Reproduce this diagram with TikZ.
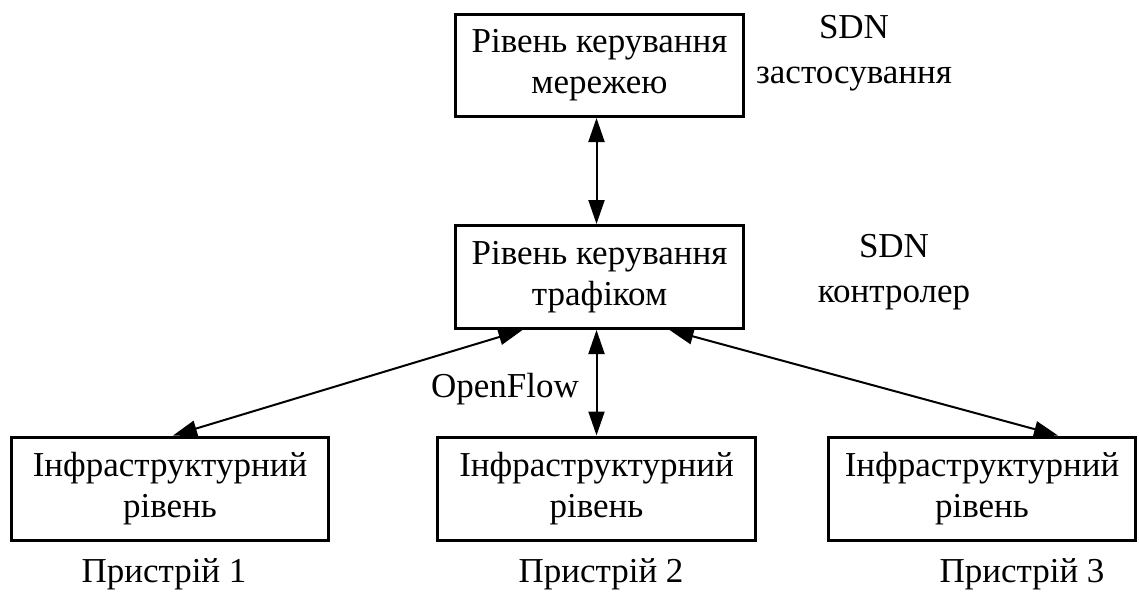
\documentclass[tikz,border=0pt]{standalone}
\usepackage{fontspec}
\setmainfont{Liberation Serif}
\usetikzlibrary{arrows.meta}
\begin{document}
\begin{tikzpicture}[x=1pt,y=-1pt,
  box/.style={draw, line width=3pt, align=center, inner sep=0pt,
    font=\fontsize{35}{41}\selectfont},
  lbl/.style={align=center, inner sep=0pt, font=\fontsize{35}{45}\selectfont},
  link/.style={line width=2pt, {Triangle[length=24pt,width=16pt]}-{Triangle[length=24pt,width=16pt]}}]
\useasboundingbox (0,0) rectangle (1139,591);

% layer boxes
\node[box, minimum width=288pt, minimum height=102pt] (app) at (599.5,65.5)
  {Рівень керування\\мережею};
\node[box, minimum width=288pt, minimum height=103pt] (ctl) at (599.5,277)
  {Рівень керування\\трафіком};
\node[box, minimum width=317pt, minimum height=103pt] (inf1) at (170,488.5)
  {Інфраструктурний\\рівень};
\node[box, minimum width=318pt, minimum height=103pt] (inf2) at (596.5,488.5)
  {Інфраструктурний\\рівень};
\node[box, minimum width=307pt, minimum height=103pt] (inf3) at (982,488.5)
  {Інфраструктурний\\рівень};

% side captions
\node[lbl] (capapp) at (854,53.5) {SDN\\застосування};
\node[lbl] (capctl) at (894,272) {SDN\\контролер};
\node[lbl, anchor=base] (of) at (505,397) {OpenFlow};
\node[lbl, anchor=base] (dev1) at (164,582) {Пристрій 1};
\node[lbl, anchor=base] (dev2) at (601,582) {Пристрій 2};
\node[lbl, anchor=base] (dev3) at (1022,582) {Пристрій 3};

% links
\draw[link] (app.south -| inf2.north) -- (ctl.north -| inf2.north);
\draw[link] (ctl.south -| inf2.north) -- (inf2.north);
\draw[link] ([xshift=-77pt]ctl.south) -- ([xshift=3pt]inf1.north);
\draw[link] ([xshift=70pt]ctl.south) -- ([xshift=76pt]inf3.north);
\end{tikzpicture}
\end{document}
